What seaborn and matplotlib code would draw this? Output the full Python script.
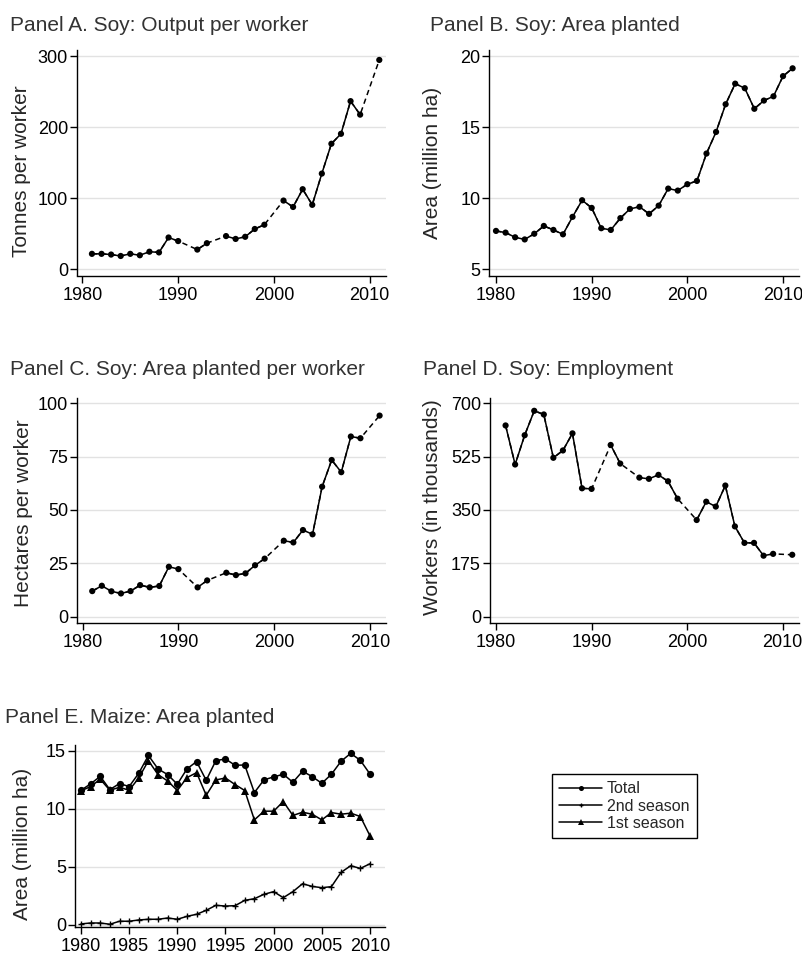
import matplotlib
matplotlib.use("Agg")
import matplotlib.pyplot as plt
import numpy as np
import pandas as pd
import seaborn as sns

nan = np.nan

# Soy panels, 1980-2011 (nan = year not observed, bridged by a dashed line)
soy_years = list(range(1980, 2012))
output_per_worker = [nan, 22, 22, 21, 19, 22, 20, 25, 24, 45, 40, nan, 28, 37, nan, 47,
                     43, 46, 57, 63, nan, 97, 88, 113, 91, 135, 177, 191, 237, 218, nan, 295]
soy_area = [7.7, 7.58, 7.25, 7.1, 7.5, 8.05, 7.77, 7.46, 8.69, 9.86, 9.32, 7.89, 7.77, 8.6,
            9.25, 9.4, 8.9, 9.48, 10.68, 10.54, 10.99, 11.22, 13.15, 14.67, 16.62, 18.07,
            17.75, 16.3, 16.88, 17.18, 18.6, 19.15]
area_per_worker = [nan, 12.0, 14.5, 11.9, 10.9, 12.0, 14.8, 13.75, 14.4, 23.4, 22.3, nan,
                   13.75, 17.0, nan, 20.6, 19.5, 20.3, 24.1, 27.2, nan, 35.6, 34.8, 40.6,
                   38.6, 60.9, 73.4, 67.7, 84.4, 83.6, nan, 94.2]
employment = [nan, 627, 499, 595, 675, 663, 521, 545, 601, 421, 419, nan, 563, 502, nan,
              456, 452, 465, 444, 387, nan, 317, 377, 361, 430, 296, 242, 242, 200, 206, nan, 203]

# Maize panel, 1980-2010
maize_years = list(range(1980, 2011))
maize_total = [11.6, 12.15, 12.8, 11.66, 12.18, 11.92, 13.07, 14.6, 13.44, 12.95, 12.12,
               13.44, 14.07, 12.46, 14.15, 14.3, 13.75, 13.78, 11.4, 12.5, 12.75, 12.98,
               12.29, 13.24, 12.78, 12.2, 12.98, 14.1, 14.78, 14.18, 13.0]
maize_2nd = [0.09, 0.17, 0.17, 0.06, 0.32, 0.32, 0.43, 0.49, 0.49, 0.6, 0.49, 0.74, 0.92,
             1.26, 1.69, 1.63, 1.66, 2.12, 2.26, 2.64, 2.87, 2.35, 2.87, 3.55, 3.32, 3.21,
             3.3, 4.53, 5.1, 4.87, 5.27]
maize_1st = [11.55, 11.92, 12.55, 11.6, 11.86, 11.6, 12.66, 14.15, 12.95, 12.4, 11.58,
             12.69, 13.12, 11.17, 12.49, 12.66, 12.09, 11.58, 9.05, 9.8, 9.8, 10.63, 9.43,
             9.71, 9.54, 9.05, 9.68, 9.54, 9.63, 9.34, 7.68]

sns.set_style("ticks")
plt.rcParams["font.family"] = ["Liberation Sans", "DejaVu Sans"]

W, H = 803, 955
fig = plt.figure(figsize=(W / 100, H / 100), dpi=100)


def add_ax(left, top, right, bottom):
    return fig.add_axes([left / W, 1 - bottom / H, (right - left) / W, (bottom - top) / H])


def style_ax(ax, yticks, xticks, xlim, ylim, ylabel, label_xy):
    ax.set_xlim(*xlim)
    ax.set_ylim(*ylim)
    ax.set_yticks(yticks)
    ax.set_xticks(xticks)
    ax.grid(axis="y", color="#e2e2e2", lw=1)
    ax.set_axisbelow(True)
    sns.despine(ax=ax)
    for s in ["left", "bottom"]:
        ax.spines[s].set_linewidth(1)
        ax.spines[s].set_color("black")
    ax.tick_params(axis="both", direction="out", length=5, width=1, labelsize=13,
                   colors="black")
    ax.tick_params(axis="y", pad=1.5)
    ax.tick_params(axis="x", pad=3)
    ax.set_xlabel("")
    ax.set_ylabel(ylabel, fontsize=15)
    ax.yaxis.set_label_coords(*label_xy)


def soy_panel(ax, values):
    df = pd.DataFrame({"year": soy_years, "value": values}).dropna()
    df["run"] = (df["year"].diff() != 1).cumsum()
    # dashed line across the missing years
    sns.lineplot(data=df, x="year", y="value", estimator=None, color="black", lw=1.1,
                 linestyle=(0, (3.5, 2.5)), ax=ax)
    # solid line for consecutive years
    sns.lineplot(data=df, x="year", y="value", units="run", estimator=None,
                 color="black", lw=1.1, ax=ax)
    sns.scatterplot(data=df, x="year", y="value", color="black", s=20,
                    edgecolor="none", ax=ax, zorder=3)


dec_ticks = [1980, 1990, 2000, 2010]

axA = add_ax(77, 50, 386, 275.5)
soy_panel(axA, output_per_worker)
style_ax(axA, [0, 100, 200, 300], dec_ticks, (1979.44, 2011.7), (-8.5, 309),
         "Tonnes per worker", (-0.149, 0.463))

axB = add_ax(489.3, 50, 799.3, 275.5)
soy_panel(axB, soy_area)
style_ax(axB, [5, 10, 15, 20], dec_ticks, (1979.3, 2011.7), (4.56, 20.44),
         "Area (million ha)", (-0.153, 0.499))

axC = add_ax(77.3, 398.3, 386, 622.7)
soy_panel(axC, area_per_worker)
style_ax(axC, [0, 25, 50, 75, 100], dec_ticks, (1979.44, 2011.67), (-2.8, 102.3),
         "Hectares per worker", (-0.1435, 0.489))

axD = add_ax(490, 398.3, 799.3, 622.7)
soy_panel(axD, employment)
style_ax(axD, [0, 175, 350, 525, 700], dec_ticks, (1979.37, 2011.74), (-19.7, 716),
         "Workers (in thousands)", (-0.155, 0.516))

axE = add_ax(75, 745, 385, 926.7)
maize = pd.DataFrame({"year": maize_years, "Total": maize_total,
                      "2nd season": maize_2nd, "1st season": maize_1st})
sns.lineplot(data=maize, x="year", y="Total", color="black", lw=1.1, marker="o",
             markersize=5.2, markeredgewidth=0, markeredgecolor="black", label="Total",
             ax=axE)
sns.lineplot(data=maize, x="year", y="2nd season", color="black", lw=1.1, marker="+",
             markersize=5, markeredgewidth=1.0, markeredgecolor="black",
             label="2nd season", ax=axE)
sns.lineplot(data=maize, x="year", y="1st season", color="black", lw=1.1, marker="^",
             markersize=5.8, markeredgewidth=0, markeredgecolor="black",
             label="1st season", ax=axE)
handles, labels = axE.get_legend_handles_labels()
axE.get_legend().remove()
style_ax(axE, [0, 5, 10, 15], list(range(1980, 2011, 5)), (1979.38, 2011.56), (-0.15, 15.5),
         "Area (million ha)", (-0.139, 0.455))

leg = fig.legend(handles, labels, loc="upper left", bbox_to_anchor=(552 / W, 1 - 774 / H),
                 frameon=True, fancybox=False, edgecolor="black", framealpha=1,
                 fontsize=11.5, handlelength=2.7, handletextpad=0.3, labelspacing=0.15,
                 borderpad=0.45, borderaxespad=0, markerscale=0.7)
leg.get_frame().set_linewidth(1)

title_color = "#333333"
fig.text(10 / W, 1 - 31 / H, "Panel A. Soy: Output per worker", fontsize=15,
         color=title_color, ha="left", va="baseline")
fig.text(430 / W, 1 - 31 / H, "Panel B. Soy: Area planted", fontsize=15,
         color=title_color, ha="left", va="baseline")
fig.text(10 / W, 1 - 375 / H, "Panel C. Soy: Area planted per worker", fontsize=15,
         color=title_color, ha="left", va="baseline")
fig.text(423 / W, 1 - 375 / H, "Panel D. Soy: Employment", fontsize=15,
         color=title_color, ha="left", va="baseline")
fig.text(5 / W, 1 - 723 / H, "Panel E. Maize: Area planted", fontsize=15,
         color=title_color, ha="left", va="baseline")

fig.savefig("out.png", dpi=100, facecolor="white")
